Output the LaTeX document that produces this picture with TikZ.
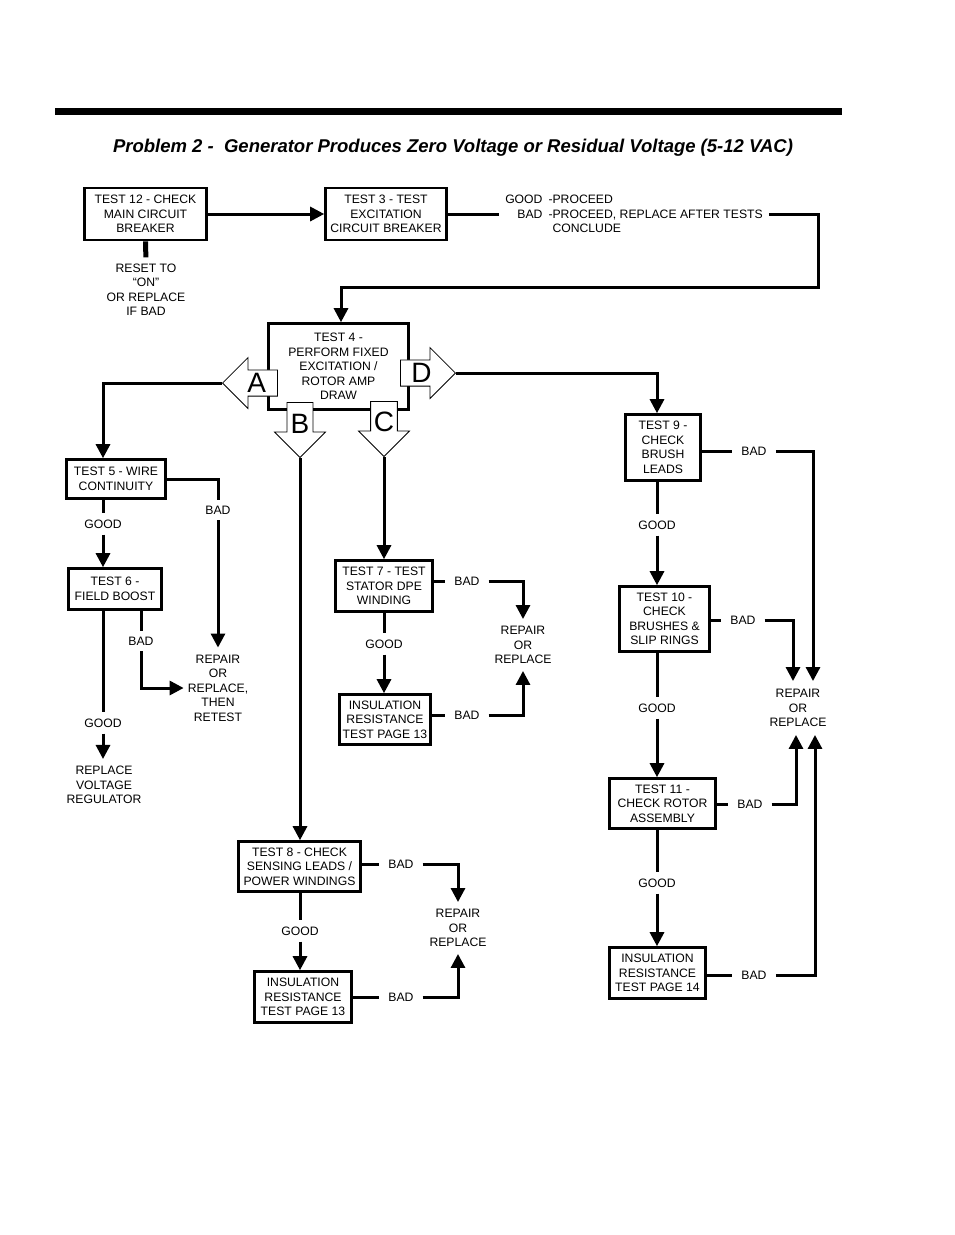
\documentclass[tikz,border=0pt]{standalone}
\usepackage{fontspec}
\setmainfont{Liberation Sans}
\usepackage{tikz}
\usetikzlibrary{arrows.meta,shapes.arrows,positioning,calc}

\begin{document}
\begin{tikzpicture}[x=1pt,y=-1pt,
  box/.style={rectangle,draw,line width=2.6pt,align=center,inner sep=2pt,
              font=\fontsize{12.2}{14.5}\selectfont},
  res/.style={align=center,inner xsep=4pt,inner ysep=7pt,
              font=\fontsize{12.2}{14.5}\selectfont},
  lbl/.style={inner xsep=9pt,inner ysep=6pt,font=\fontsize{12.2}{14.5}\selectfont},
  bigarr/.style={single arrow,draw,line width=0.8pt,fill=white,inner sep=0pt,
                 minimum height=55pt,minimum width=51pt,
                 single arrow head extend=9.5pt,single arrow head indent=0pt,
                 font=\fontsize{28}{28}\selectfont},
  ln/.style={line width=3pt},
  arr/.style={-{Triangle[length=14pt,width=14pt]},line width=3pt}
]
  \useasboundingbox (0,0) rectangle (954,1235);
  \fill (55,108) rectangle (842,115);
  \node[font=\fontsize{18.5}{20}\selectfont\bfseries\itshape](title) at (453,148)
    {Problem 2 -\ \ Generator Produces Zero Voltage or Residual Voltage (5-12 VAC)};

  % top row
  \node[box,minimum width=122pt,minimum height=52pt](t12) at (145.5,214) {TEST 12 - CHECK\\MAIN CIRCUIT\\BREAKER};
  \node[box,minimum width=121pt,minimum height=52pt](t3)  at (386,214)   {TEST 3 - TEST\\EXCITATION\\CIRCUIT BREAKER};
  \node[res,inner ysep=6pt](rst12) at (146,289.5) {RESET TO\\``ON''\\OR REPLACE\\IF BAD};
  \node[res,inner xsep=6pt,inner ysep=2pt](res3) at (634,215.5)
    {\begin{tabular}{@{}r@{\hspace{6pt}}l@{}}GOOD&-PROCEED\\BAD&-PROCEED, REPLACE AFTER TESTS\\&\hspace{4pt}CONCLUDE\end{tabular}};
  \coordinate (loopR) at (818,287);

  \node[box,minimum width=140pt,minimum height=86pt](t4) at (338.5,366.5)
    {TEST 4 -\\PERFORM FIXED\\EXCITATION /\\ROTOR AMP\\DRAW};
  \node[bigarr,shape border rotate=180,anchor=tip](arA) at (222,383) {A};
  \node[bigarr,anchor=tip](arD) at (456,373) {D};
  \node[bigarr,shape border rotate=270,anchor=tip](arB) at (300,458) {B};
  \node[bigarr,shape border rotate=270,anchor=tip](arC) at (384,457) {C};

  % A branch
  \node[box,minimum width=99pt,minimum height=39pt](t5) at (116,479) {TEST 5 - WIRE\\CONTINUITY};
  \node[lbl](g5) at (103,524) {GOOD};
  \node[lbl](b5) at (218,510) {BAD};
  \node[box,minimum width=93pt,minimum height=41pt](t6) at (115,589) {TEST 6 -\\FIELD BOOST};
  \node[res](rr5) at (218,688) {REPAIR\\OR\\REPLACE,\\THEN\\RETEST};
  \node[lbl](b6) at (141,641) {BAD};
  \node[lbl](g6) at (103,723) {GOOD};
  \node[res](rv6) at (104,785) {REPLACE\\VOLTAGE\\REGULATOR};

  % C branch
  \node[box,minimum width=97pt,minimum height=51pt](t7) at (384,586) {TEST 7 - TEST\\STATOR DPE\\WINDING};
  \node[lbl](b7) at (467,581) {BAD};
  \node[res](rr7) at (523,645) {REPAIR\\OR\\REPLACE};
  \node[lbl](g7) at (384,644) {GOOD};
  \node[box,minimum width=91pt,minimum height=50pt](ins13a) at (385,719.5) {INSULATION\\RESISTANCE\\TEST PAGE 13};
  \node[lbl](bi13a) at (467,715) {BAD};

  % B branch
  \node[box,minimum width=122pt,minimum height=50pt](t8) at (299.5,866.5) {TEST 8 - CHECK\\SENSING LEADS /\\POWER WINDINGS};
  \node[lbl](b8) at (401,864) {BAD};
  \node[res](rr8) at (458,928) {REPAIR\\OR\\REPLACE};
  \node[lbl](g8) at (300,931) {GOOD};
  \node[box,minimum width=97pt,minimum height=51pt](ins13b) at (303,997) {INSULATION\\RESISTANCE\\TEST PAGE 13};
  \node[lbl](bi13b) at (401,997) {BAD};

  % D branch
  \node[box,minimum width=75pt,minimum height=66pt](t9) at (663,447.5) {TEST 9 -\\CHECK\\BRUSH\\LEADS};
  \node[lbl](b9) at (754,451) {BAD};
  \node[lbl](g9) at (657,525) {GOOD};
  \node[box,minimum width=90pt,minimum height=65pt](t10) at (664.5,619) {TEST 10 -\\CHECK\\BRUSHES \&\\SLIP RINGS};
  \node[lbl](b10) at (743,620) {BAD};
  \node[lbl](g10) at (657,708) {GOOD};
  \node[res,inner ysep=8pt](rr9) at (798,708) {REPAIR\\OR\\REPLACE};
  \node[box,minimum width=106pt,minimum height=50pt](t11) at (662.5,803.5) {TEST 11 -\\CHECK ROTOR\\ASSEMBLY};
  \node[lbl](b11) at (750,804) {BAD};
  \node[lbl](g11) at (657,883) {GOOD};
  \node[box,minimum width=96pt,minimum height=51pt](ins14) at (657.5,973) {INSULATION\\RESISTANCE\\TEST PAGE 14};
  \node[lbl](bi14) at (754,975) {BAD};

  % connectors
  \draw[arr](t12)--(t3);
  \draw[line width=5pt](t12)--(rst12);
  \draw[ln](t3.east)--(t3.east -| res3.west);
  \draw[arr](res3.east |- t3.east)-|(loopR)-|([xshift=2.5pt]t4.north);

  \draw[arr](arA.tip)-|([xshift=-13pt]t5.north);
  \draw[arr](arD.tip)-|([xshift=-6pt]t9.north);
  \draw[arr](arB.tip)--(arB.tip |- t8.north);
  \draw[arr](arC.tip)--(arC.tip |- t7.north);

  \draw[ln]([xshift=-13pt]t5.south)--(g5);
  \draw[arr](g5)--(g5 |- t6.north);
  \draw[ln](t5.east)-|(b5);
  \draw[arr](b5)--(rr5);
  \draw[ln]([xshift=26pt]t6.south)--(b6);
  \draw[arr](b6)|-(rr5);
  \draw[ln]([xshift=-12pt]t6.south)--(g6);
  \draw[arr](g6)--(g6 |- rv6.north);

  \draw[ln](t7.east |- b7)--(b7);
  \draw[arr](b7)-|(rr7);
  \draw[ln](t7)--(g7);
  \draw[arr](g7)--(g7 |- ins13a.north);
  \draw[ln](ins13a.east |- bi13a)--(bi13a);
  \draw[arr](bi13a)-|(rr7);

  \draw[ln](t8.east |- b8)--(b8);
  \draw[arr](b8)-|(rr8);
  \draw[ln](t8.south -| g8)--(g8);
  \draw[arr](g8)--(g8 |- ins13b.north);
  \draw[ln](ins13b)--(bi13b);
  \draw[arr](bi13b)-|(rr8);

  \draw[ln](t9.east |- b9)--(b9);
  \draw[arr](b9)-|([xshift=15pt]rr9.north);
  \draw[ln](t9.south -| g9)--(g9);
  \draw[arr](g9)--(g9 |- t10.north);
  \draw[ln](t10.east |- b10)--(b10);
  \draw[arr](b10)-|([xshift=-5pt]rr9.north);
  \draw[ln](t10.south -| g10)--(g10);
  \draw[arr](g10)--(g10 |- t11.north);
  \draw[ln](t11.east |- b11)--(b11);
  \draw[arr](b11)-|([xshift=-2pt]rr9.south);
  \draw[ln](t11.south -| g11)--(g11);
  \draw[arr](g11)--(g11 |- ins14.north);
  \draw[ln](ins14.east |- bi14)--(bi14);
  \draw[arr](bi14)-|([xshift=17pt]rr9.south);
\end{tikzpicture}
\end{document}
